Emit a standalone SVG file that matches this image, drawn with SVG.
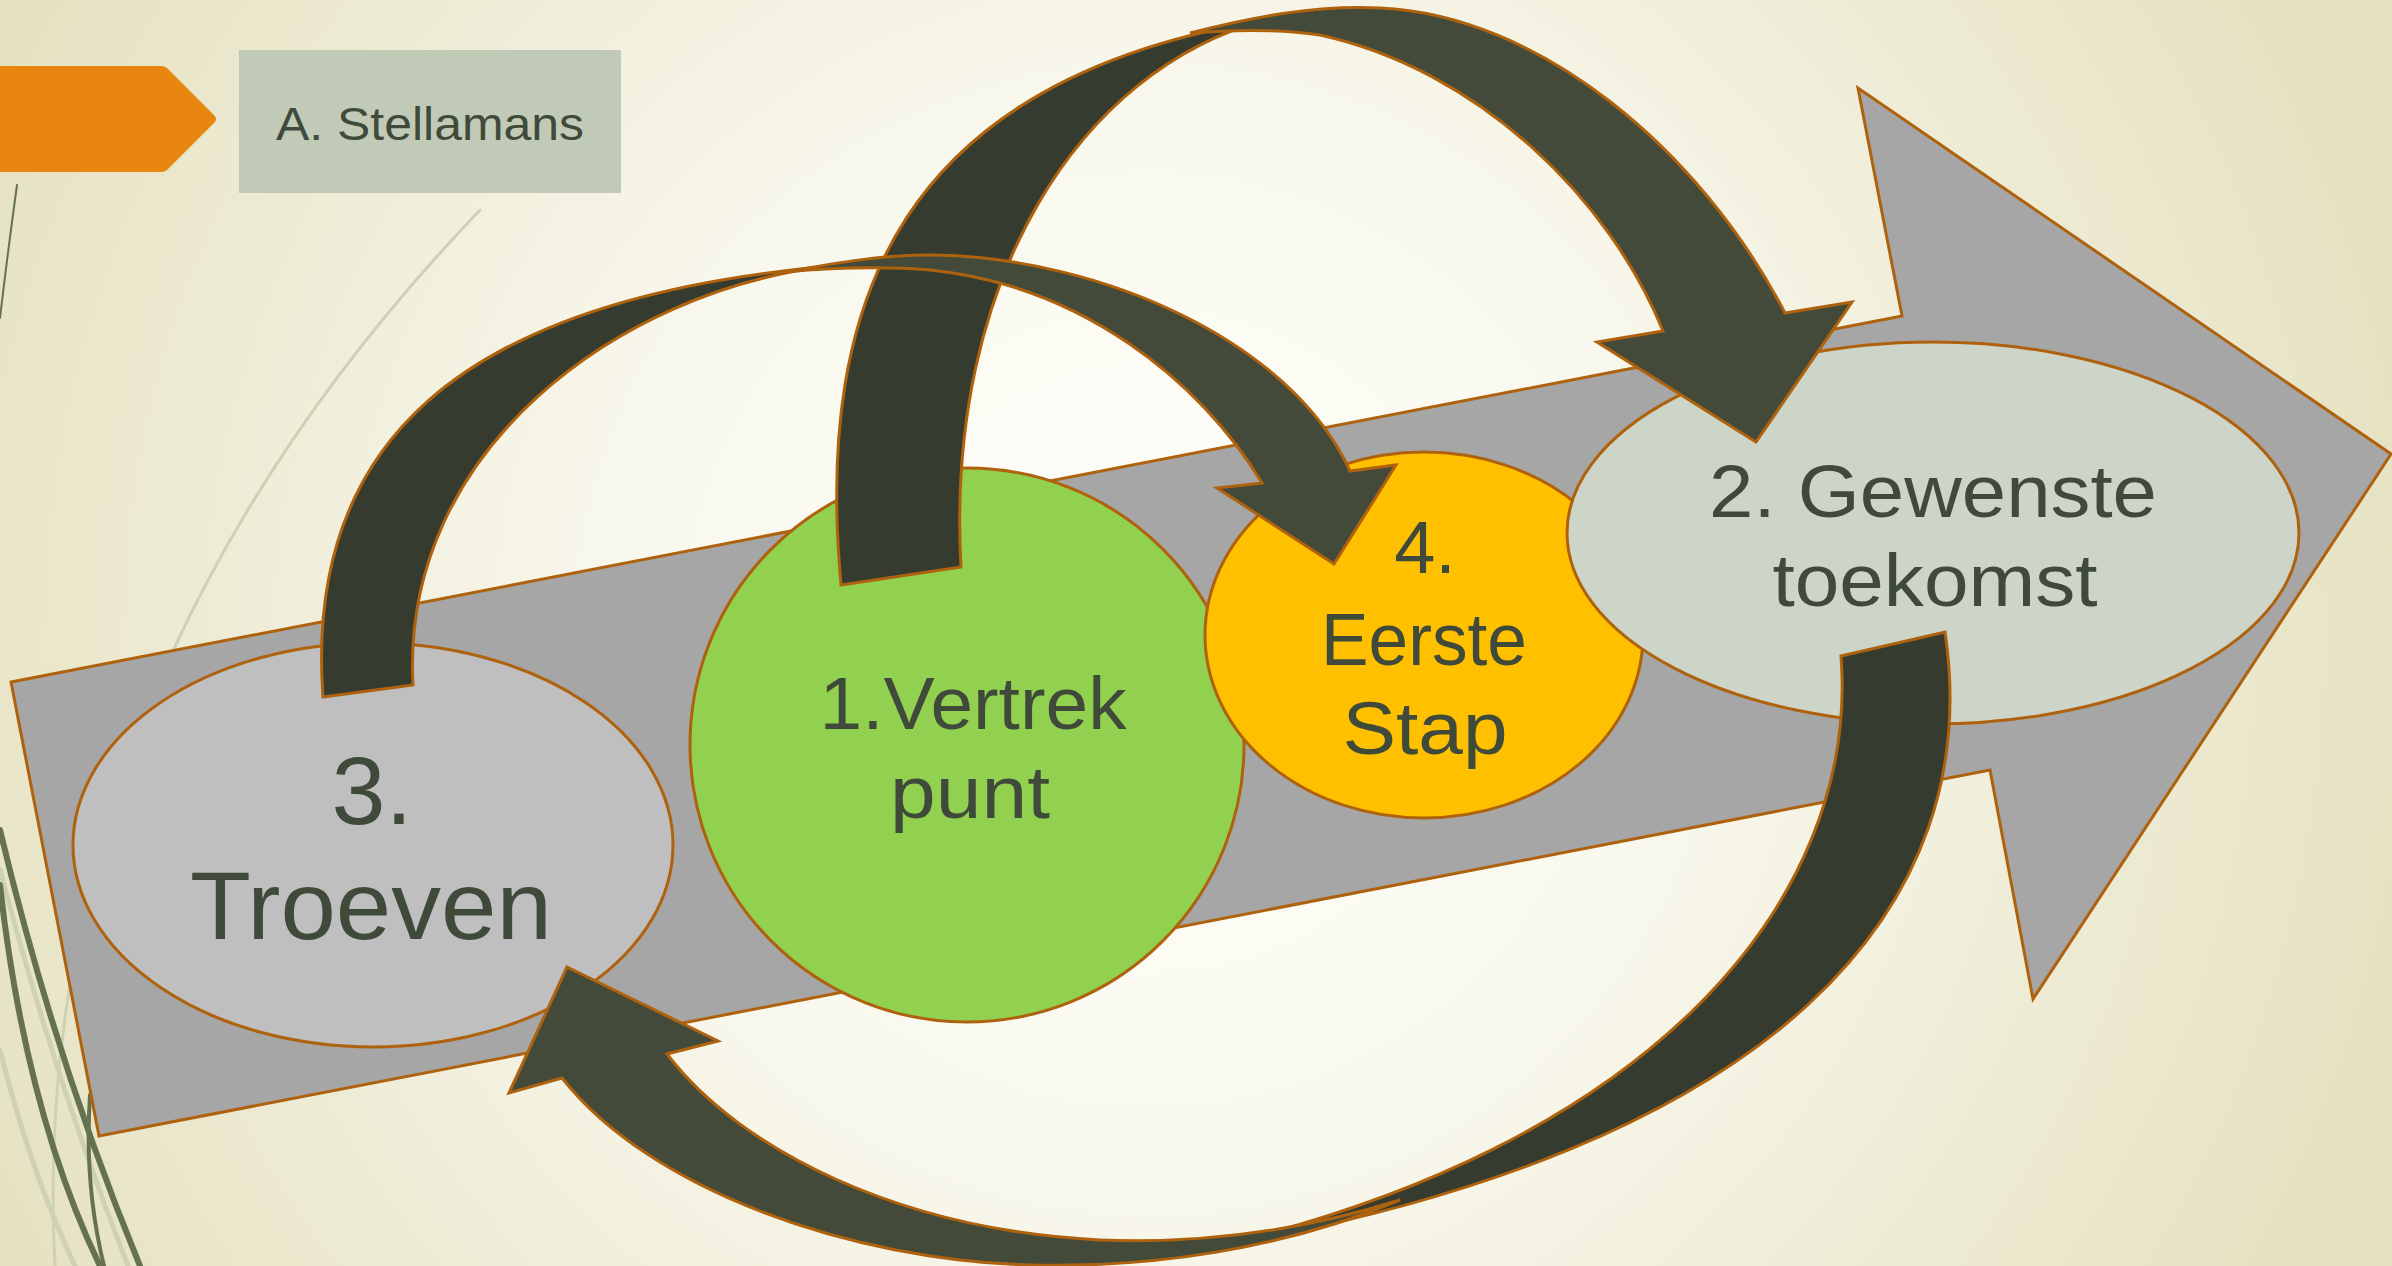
<svg xmlns="http://www.w3.org/2000/svg" width="2392" height="1266" viewBox="0 0 2392 1266">
<defs>
<radialGradient id="bg" gradientUnits="userSpaceOnUse" cx="1150" cy="640" r="1300">
<stop offset="0" stop-color="#FFFFFC"/>
<stop offset="0.4" stop-color="#F9F8EE"/>
<stop offset="1" stop-color="#E5E1C0"/>
</radialGradient>
<style>
.edge{stroke:#AF620D;stroke-width:3;stroke-linejoin:miter}
.lbl{font-family:"Liberation Sans",Arial,sans-serif;fill:#3F4A3A;text-anchor:middle}
.dark{fill:#363B30}
.light{fill:#434A3A}
.deco{fill:none;stroke:#66724F;stroke-linecap:round}
.pale{fill:none;stroke:#CFD1B5;stroke-linecap:round}
</style>
</defs>
<rect width="2392" height="1266" fill="url(#bg)"/>
<g id="decor">
<path class="deco" stroke-width="2" d="M17,185 Q8,250 0,318"/>
<path class="pale" stroke-width="3" d="M480,210 C250,450 30,800 55,1266"/>
<path class="pale" stroke-width="5" d="M0,1050 Q30,1170 75,1266"/>
<path class="pale" stroke-width="5" d="M0,870 Q55,1080 128,1266"/>
<path class="deco" stroke-width="6" d="M0,830 Q55,1060 140,1266"/>
<path class="deco" stroke-width="6" d="M0,885 Q25,1110 100,1266"/>
<path class="deco" stroke-width="4" d="M90,1095 Q84,1185 104,1266"/>
</g>
<g id="tab">
<path fill="#E8860F" d="M0,66 L161,66 Q166,66 169,70 L214,115 Q218,119 214,123 L169,168 Q166,172 161,172 L0,172 Z"/>
</g>
<g id="author">
<rect x="239" y="50" width="382" height="143" fill="#C1CAB6"/>
<text class="lbl" x="430" y="140" font-size="46" textLength="308" lengthAdjust="spacingAndGlyphs">A. Stellamans</text>
</g>
<g id="main-arrow">
<polygon class="edge" fill="#A6A6A6" points="11,682 1902,316 1858,88 2391,454 2033,999 1990,770 99,1136"/>
</g>
<g id="node-3">
<ellipse class="edge" fill="#BFBFBF" cx="373" cy="845" rx="300" ry="202"/>
<text class="lbl" x="372" y="824" font-size="97">3.</text>
<text class="lbl" x="371" y="939" font-size="96" textLength="362" lengthAdjust="spacingAndGlyphs">Troeven</text>
</g>
<g id="node-1">
<circle class="edge" fill="#92D050" cx="967" cy="745" r="277"/>
<text class="lbl" x="973" y="729" font-size="75" textLength="307" lengthAdjust="spacingAndGlyphs">1.Vertrek</text>
<text class="lbl" x="970" y="818" font-size="75" textLength="160" lengthAdjust="spacingAndGlyphs">punt</text>
</g>
<g id="node-4">
<ellipse class="edge" fill="#FFC000" cx="1424" cy="635" rx="219" ry="183"/>
<text class="lbl" x="1425" y="573" font-size="74">4.</text>
<text class="lbl" x="1424" y="665" font-size="74" textLength="206" lengthAdjust="spacingAndGlyphs">Eerste</text>
<text class="lbl" x="1425" y="754" font-size="74" textLength="165" lengthAdjust="spacingAndGlyphs">Stap</text>
</g>
<g id="node-2">
<ellipse class="edge" fill="#CDD4C8" cx="1933" cy="533" rx="366" ry="191"/>
<text class="lbl" x="1933" y="517" font-size="75" textLength="448" lengthAdjust="spacingAndGlyphs">2. Gewenste</text>
<text class="lbl" x="1935" y="606" font-size="75" textLength="325" lengthAdjust="spacingAndGlyphs">toekomst</text>
</g>
<g id="connectors">
<g id="arrow-1-2">
<path class="edge dark" d="M841,585 C815,300 900,80 1265,20 C1080,70 945,280 961,567 Z"/>
<path class="edge light" d="M1190,33 C1260,15 1320,5 1380,8 C1540,15 1700,150 1785,313 L1852,302 L1756,442 L1597,342 L1663,331 C1610,200 1480,70 1320,35 C1280,29 1240,29 1190,33 Z"/>
</g>
<g id="arrow-3-4">
<path class="edge dark" d="M323,697 C305,450 450,300 830,266 C620,290 400,450 413,685 Z"/>
<path class="edge light" d="M785,272 C840,262 890,254 935,255 C1100,258 1290,340 1350,471 L1396,465 L1334,564 L1217,488 L1262,483 C1200,380 1080,285 930,270 C880,266 830,268 785,272 Z"/>
</g>
<g id="arrow-2-3">
<path class="edge dark" d="M1841,656 L1945,632 C1985,900 1790,1150 1200,1250 C1650,1150 1860,900 1841,656 Z"/>
<path class="edge light" d="M1400,1200 C1280,1250 1150,1268 1030,1265 C850,1260 650,1190 562,1078 L509,1093 L567,967 L718,1041 L667,1054 C740,1150 900,1230 1100,1240 C1220,1245 1320,1225 1400,1200 Z"/>
</g>
</g>
</svg>
